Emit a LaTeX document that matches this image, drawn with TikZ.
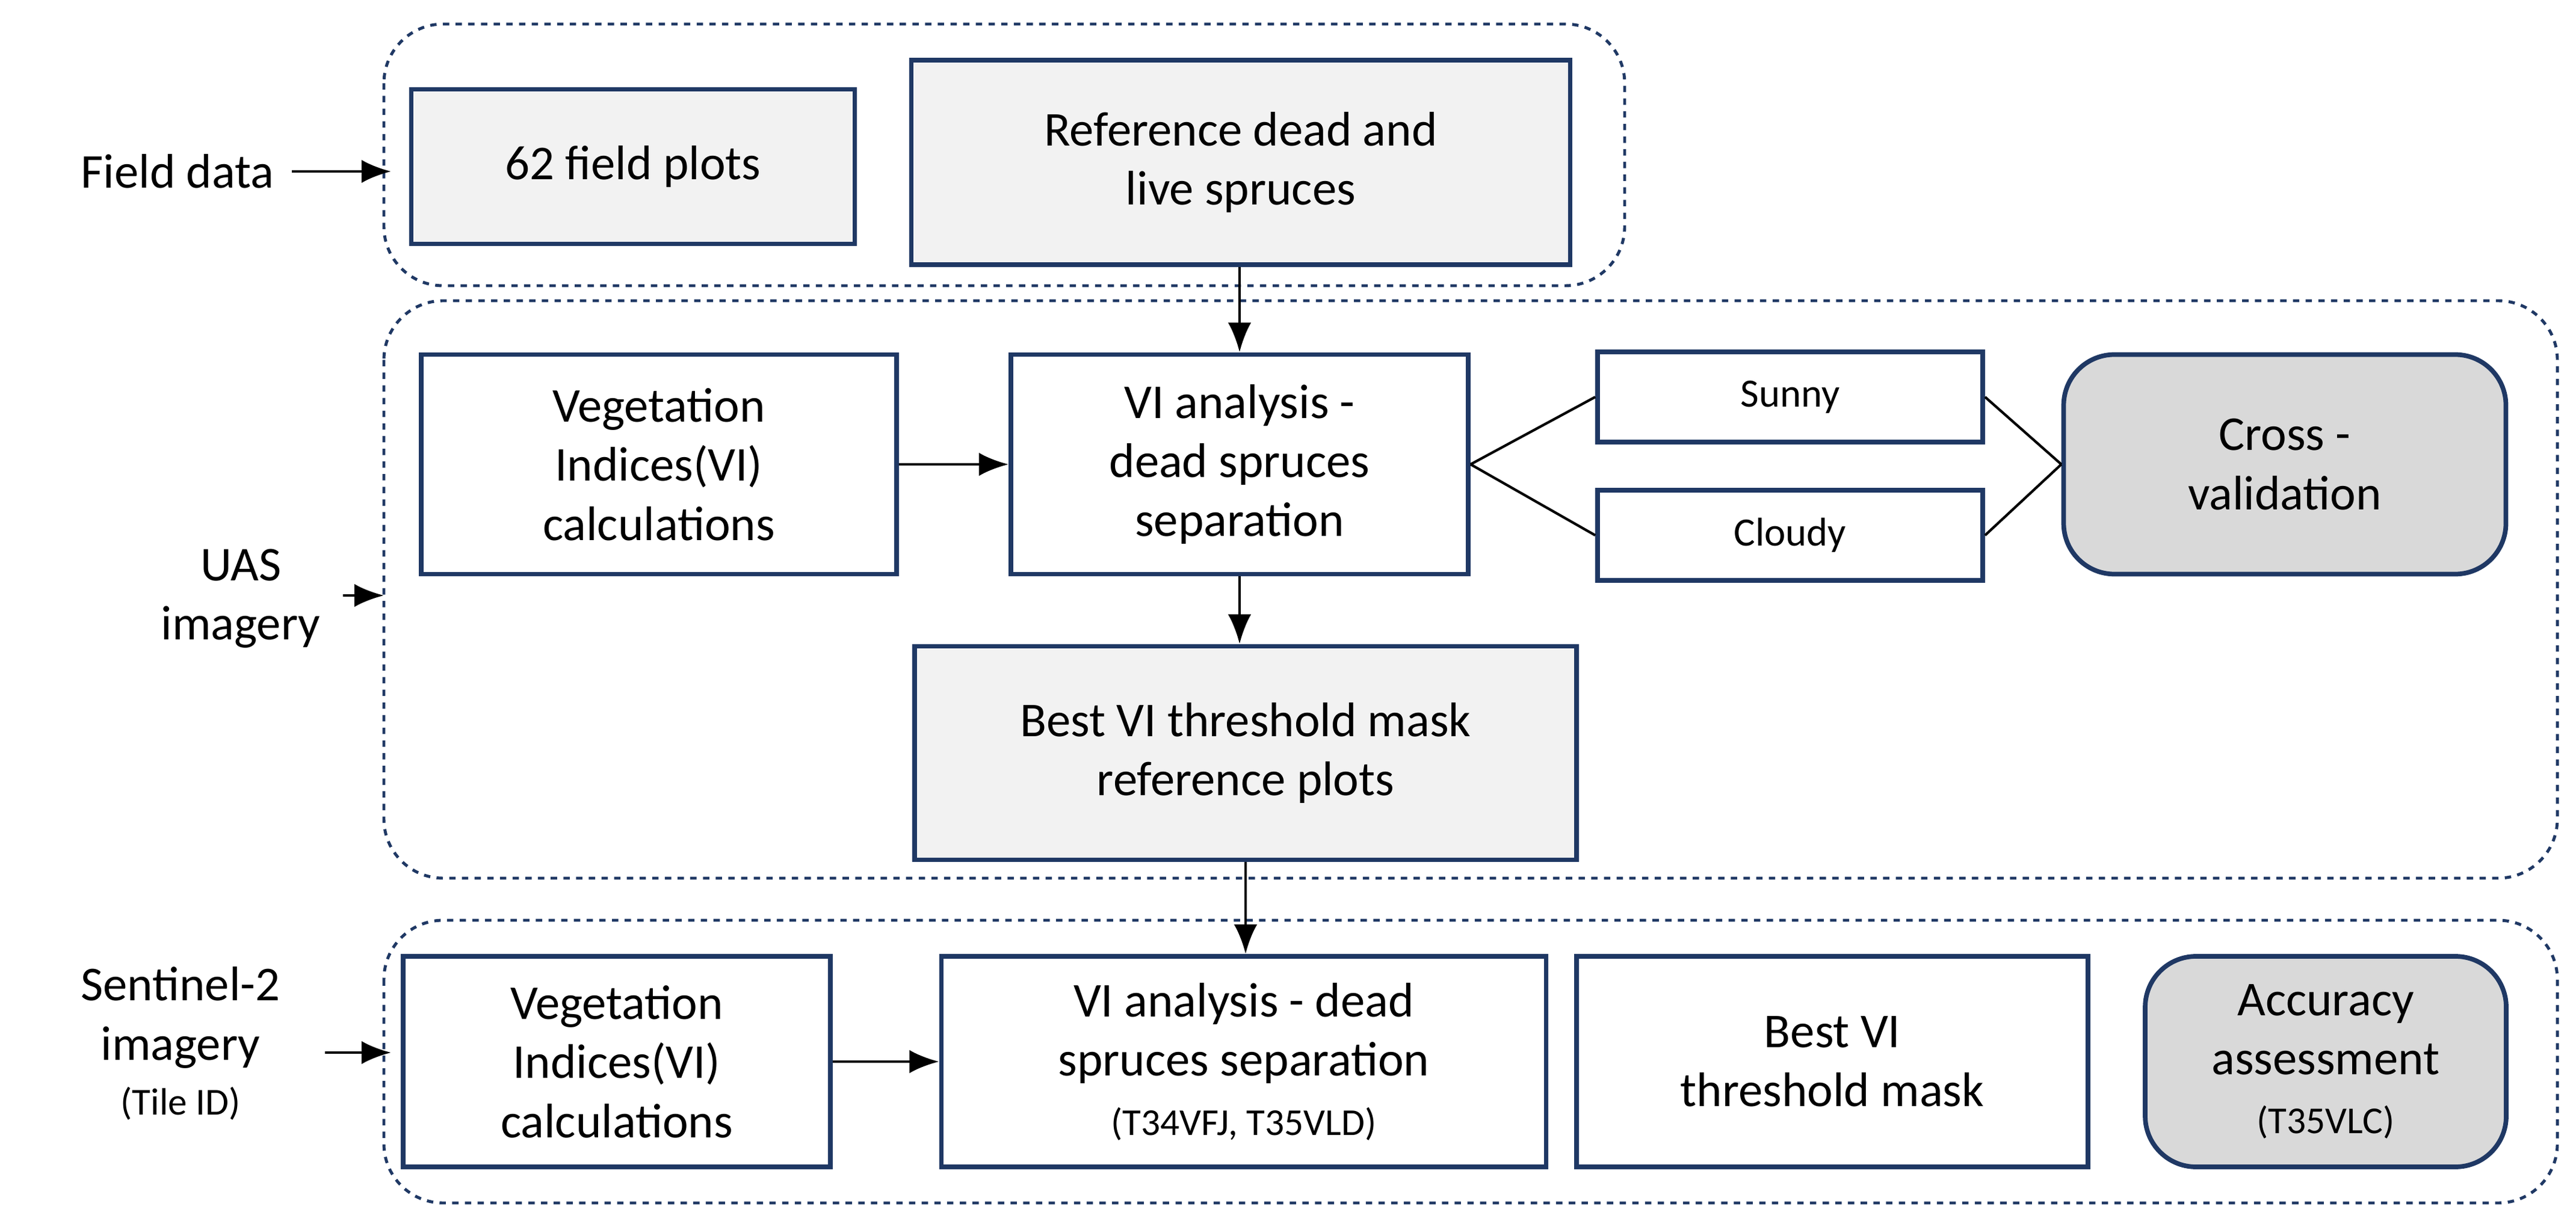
\documentclass[tikz,border=0pt]{standalone}
\usepackage{fontspec}
\setmainfont{Carlito}
\usetikzlibrary{positioning,arrows.meta}
\definecolor{navy}{HTML}{1F3864}
\definecolor{lightgray}{HTML}{F2F2F2}
\definecolor{midgray}{HTML}{D9D9D9}
\tikzset{
  box/.style={draw=navy, line width=2.2pt, align=center, inner sep=0pt, font=\fontsize{23}{28}\selectfont},
  group/.style={draw=navy, dashed, line width=1.4pt, rounded corners=28pt},
  arr/.style={-{Latex[length=14pt,width=11pt]}, line width=1.4pt},
  link/.style={line width=1.2pt}
}
\begin{document}
\begin{tikzpicture}
                    \useasboundingbox (0,0) rectangle (42.81,-20.30);
                    % Gruppen
                    \draw [group] (6.38,-0.40) rectangle (27.00,-4.75);
                    \draw [group] (6.38,-5.00) rectangle (42.50,-14.60);
                    \draw [group] (6.38,-15.30) rectangle (42.50,-20.00);
                    % Feldaten
                    \node [box, fill=lightgray, minimum width=7.37cm, minimum height=2.57cm] (plots) at (10.52,-2.77) {62 field plots};
                    \node [box, fill=lightgray, minimum width=10.95cm, minimum height=3.40cm] (refer) at (20.62,-2.70) {Reference dead and\\live spruces};
                    % UAS
                    \node [box, minimum width=7.90cm, minimum height=3.65cm] (vegA) at (10.95,-7.72) {Vegetation\\Indices(VI)\\calculations};
                    \node [box, minimum width=7.60cm, minimum height=3.65cm] (anaA) at (20.60,-7.72) {VI analysis -\\dead spruces\\separation};
                    \node [box, font=\fontsize{19}{22}\selectfont, minimum width=6.40cm, minimum height=1.50cm] (sunny) at (29.75,-6.60) {Sunny};
                    \node [box, font=\fontsize{19}{22}\selectfont, minimum width=6.40cm, minimum height=1.50cm] (cloudy) at (29.75,-8.90) {Cloudy};
                    \node [box, fill=midgray, rounded corners=24pt, minimum width=7.35cm, minimum height=3.65cm] (cross) at (37.97,-7.72) {Cross -\\validation};
                    \node [box, fill=lightgray, minimum width=11.00cm, minimum height=3.55cm] (best) at (20.70,-12.52) {Best VI threshold mask\\reference plots};
                    % Sentinel-2
                    \node [box, minimum width=7.10cm, minimum height=3.50cm] (vegB) at (10.25,-17.65) {Vegetation\\Indices(VI)\\calculations};
                    \node [box, minimum width=10.05cm, minimum height=3.50cm] (anaB) at (20.67,-17.65) {VI analysis - dead\\spruces separation\\{\fontsize{18}{22}\selectfont(T34VFJ, T35VLD)}};
                    \node [box, minimum width=8.50cm, minimum height=3.50cm] (maskB) at (30.45,-17.65) {Best VI\\threshold mask};
                    \node [box, fill=midgray, rounded corners=24pt, minimum width=6.00cm, minimum height=3.50cm] (accu) at (38.65,-17.65) {Accuracy\\assessment\\{\fontsize{18}{22}\selectfont(T35VLC)}};
                    % Beschriftungen links
                    \node [font=\fontsize{23}{28}\selectfont] (lfield) at (2.95,-2.85) {Field data};
                    \node [font=\fontsize{23}{28}\selectfont, align=center] (luas) at (4.00,-9.95) {UAS\\imagery};
                    \node [font=\fontsize{23}{28}\selectfont, align=center] (lsent) at (3.00,-17.35) {Sentinel-2\\imagery\\[-2pt]{\fontsize{18}{22}\selectfont(Tile ID)}};
                    \coordinate (efield) at (6.50,-2.85);
                    \coordinate (euas) at (6.38,-9.90);
                    \coordinate (esent) at (6.50,-17.50);
                    \draw [arr] (4.85,-2.85) -- (efield);
                    \draw [arr] (5.70,-9.90) -- (euas);
                    \draw [arr] (5.40,-17.50) -- (esent);
                    % Pfeile
                    \draw [arr] (anaA.north |- refer.south) -- (anaA.north);
                    \draw [arr] (vegA) -- (anaA);
                    \draw [arr] (anaA.south) -- (anaA.south |- best.north);
                    \draw [arr] (best.south) -- (best.south |- anaB.north);
                    \draw [arr] (vegB) -- (anaB);
                    \draw [link] (anaA.east) -- (sunny.west);
                    \draw [link] (anaA.east) -- (cloudy.west);
                    \draw [link] (sunny.east) -- (cross.west);
                    \draw [link] (cloudy.east) -- (cross.west);
\end{tikzpicture}
\end{document}
